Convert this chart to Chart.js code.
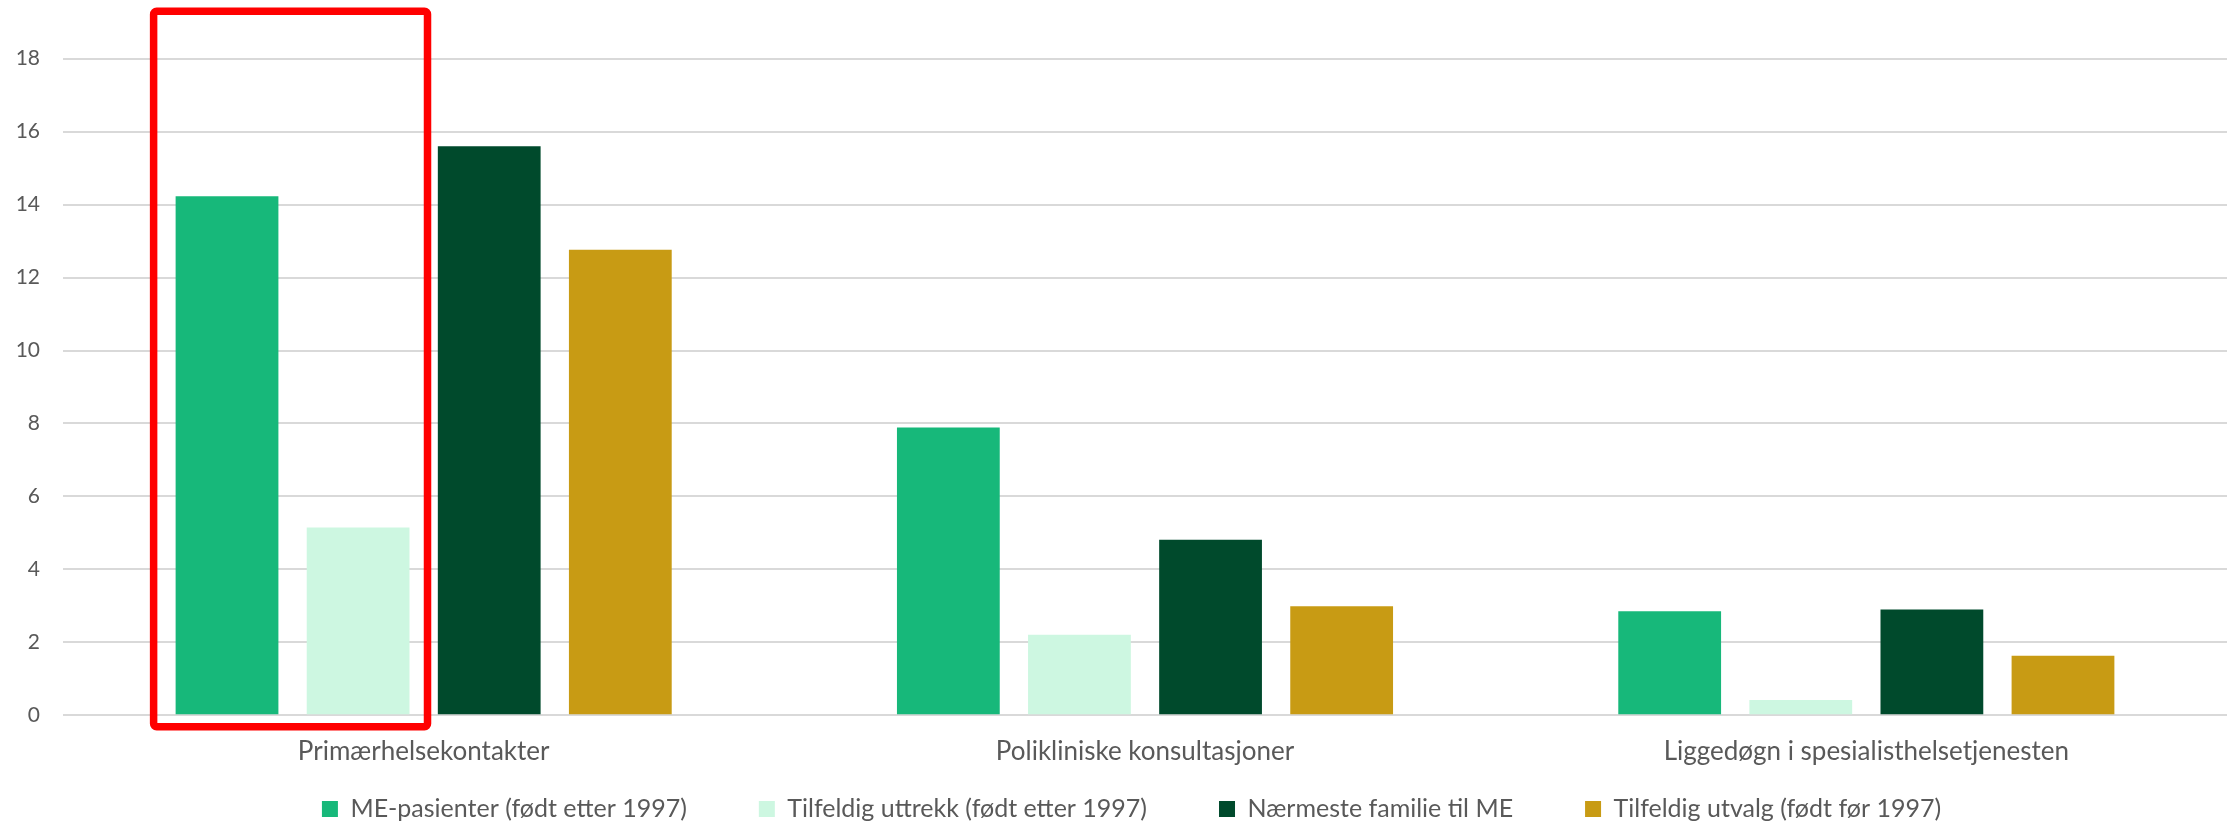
<!DOCTYPE html>
<html>
<head>
<meta charset="utf-8">
<script src="https://cdn.jsdelivr.net/npm/chart.js@4/dist/chart.umd.min.js"></script>
<style>
  html, body { margin: 0; padding: 0; background: #ffffff; }
  #wrap { width: 2239px; height: 824px; }
</style>
</head>
<body>
<div id="wrap"><canvas id="c" width="2239" height="824"></canvas></div>
<script>
const categories = ["Primærhelsekontakter", "Polikliniske konsultasjoner", "Liggedøgn i spesialisthelsetjenesten"];
const seriesNames = ["ME-pasienter (født etter 1997)", "Tilfeldig uttrekk (født etter 1997)", "Nærmeste familie til ME", "Tilfeldig utvalg (født før 1997)"];
const mePasienter = [14.23, 7.89, 2.85];
const tilfeldigUttrekk = [5.15, 2.21, 0.42];
const naermesteFamilie = [15.60, 4.81, 2.90];
const tilfeldigUtvalg = [12.76, 2.99, 1.63];
const yTicks = [0, 2, 4, 6, 8, 10, 12, 14, 16, 18];
const colors = ["#17B87A", "#CDF7E1", "#004A2C", "#C89B14"];

Chart.defaults.font.family = "Lato, 'Open Sans', sans-serif";
Chart.defaults.color = "#595959";

const LEGEND_PAD = 72;
const LEGEND_FONT = 25;

const highlightBox = {
  id: 'highlightBox',
  afterLayout(chart) {
    // place the legend row like the reference (centred a bit right, row centre ~809px)
    const lg = chart.legend;
    if (lg) {
      lg.top = 809 - LEGEND_FONT / 2 - LEGEND_PAD;
      lg.bottom = chart.height;
      lg.height = lg.bottom - lg.top;
      lg.left += 18;
      lg.right += 18;
    }
  },
  afterDraw(chart) {
    const b0 = chart.getDatasetMeta(0).data[0];
    const b1 = chart.getDatasetMeta(1).data[0];
    const ca = chart.chartArea;
    const left = b0.x - b0.width / 2 - 22;
    const right = b1.x + b1.width / 2 + 18;
    const top = ca.top - 47.5;
    const bottom = ca.bottom + 11.4;
    const ctx = chart.ctx;
    ctx.save();
    ctx.strokeStyle = '#FF0000';
    ctx.lineWidth = 7.5;
    ctx.lineJoin = 'round';
    ctx.beginPath();
    ctx.roundRect(left, top, right - left, bottom - top, 3);
    ctx.stroke();
    ctx.restore();
  }
};

const data = {
  labels: categories,
  datasets: [mePasienter, tilfeldigUttrekk, naermesteFamilie, tilfeldigUtvalg].map((vals, i) => ({
    label: seriesNames[i],
    data: vals,
    backgroundColor: colors[i],
    borderWidth: 0,
    categoryPercentage: 0.727,
    barPercentage: 0.784
  }))
};

new Chart(document.getElementById('c'), {
  type: 'bar',
  data,
  plugins: [highlightBox],
  options: {
    responsive: false,
    animation: false,
    layout: { padding: { left: 0, right: 12, top: 58.7, bottom: 0 } },
    plugins: {
      tooltip: { enabled: false },
      legend: {
        position: 'bottom',
        maxHeight: 50,
        labels: {
          boxWidth: 16,
          boxHeight: 16,
          padding: LEGEND_PAD,
          color: '#595959',
          font: { size: LEGEND_FONT }
        }
      }
    },
    scales: {
      x: {
        grid: { display: false, drawTicks: false },
        border: { display: false },
        ticks: { padding: 21, color: '#595959', font: { size: 26 } },
        afterFit(scale) { scale.height = 824 - 50 - 715.3; }
      },
      y: {
        min: 0,
        max: 18,
        afterBuildTicks(scale) { scale.ticks = yTicks.map(v => ({ value: v })); },
        grid: { color: '#D9D9D9', lineWidth: 2, drawTicks: false },
        border: { display: false },
        ticks: { padding: 23, color: '#595959', font: { size: 21 } },
        afterFit(scale) { scale.width = 63; }
      }
    }
  }
});
</script>
</body>
</html>
